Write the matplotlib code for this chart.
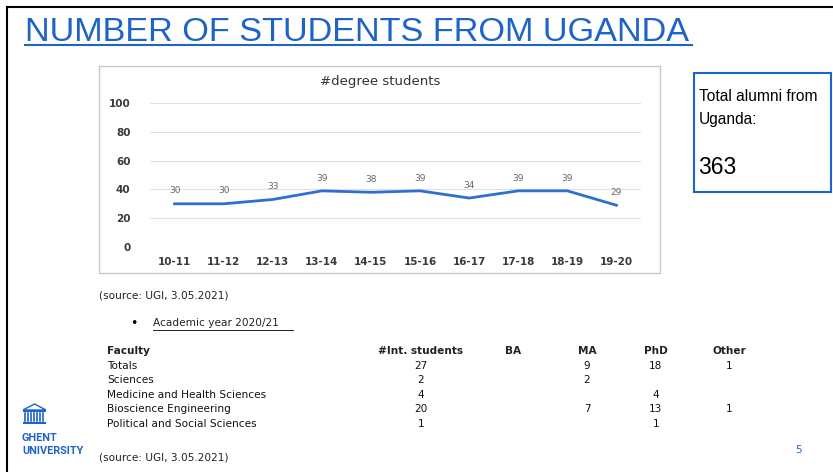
import matplotlib.pyplot as plt
from matplotlib.patches import Rectangle, Polygon

# --- Data ---
years = ["10-11", "11-12", "12-13", "13-14", "14-15", "15-16", "16-17", "17-18", "18-19", "19-20"]
degree_students = [30, 30, 33, 39, 38, 39, 34, 39, 39, 29]

table_cols = ["Faculty", "#Int. students", "BA", "MA", "PhD", "Other"]
faculties = ["Totals", "Sciences", "Medicine and Health Sciences",
             "Bioscience Engineering", "Political and Social Sciences"]
int_students = ["27", "2", "4", "20", "1"]
ba = ["", "", "", "", ""]
ma = ["9", "2", "", "7", ""]
phd = ["18", "", "4", "13", "1"]
other = ["1", "", "", "1", ""]

total_alumni = 363

W, H = 833, 472
BLUE = "#1e64c8"


def fx(x):
    return x / W


def fy(y):
    return 1 - y / H


fig = plt.figure(figsize=(W / 100, H / 100), dpi=100)
fig.patch.set_facecolor("white")

# slide frame (left and top)
fig.add_artist(plt.Line2D([fx(7), fx(7)], [fy(7), 0], color="black", lw=1.5))
fig.add_artist(plt.Line2D([fx(7), 1], [fy(7), fy(7)], color="black", lw=1.5))

# --- Title ---
fig.text(fx(25), fy(41), "NUMBER OF STUDENTS FROM UGANDA", family="Liberation Sans",
         fontsize=24.7, color=BLUE, va="baseline", ha="left")
fig.add_artist(plt.Line2D([fx(25), fx(692)], [fy(45), fy(45)], color=BLUE, lw=1.5))

# --- Chart box ---
fig.add_artist(Rectangle((fx(99), fy(273)), fx(660) - fx(99), fy(66) - fy(273),
                         transform=fig.transFigure, fill=False, ec="#c8c8c8", lw=1))

ax = fig.add_axes([fx(150), fy(247), fx(641) - fx(150), fy(103) - fy(247)])
x = list(range(len(years)))
ax.plot(x, degree_students, color="#2f6fd0", lw=2)
for xi, v in zip(x, degree_students):
    ax.annotate(str(v), (xi, v), xytext=(0, 6), textcoords="offset points",
                ha="center", va="bottom", fontsize=6.5, color="#666666", family="DejaVu Sans")
ax.set_xlim(-0.5, len(years) - 0.5)
ax.set_ylim(0, 100)
ax.set_yticks(range(0, 101, 20))
ax.set_xticks(x)
ax.set_xticklabels(years)
ax.grid(axis="y", color="#e0e0e0", lw=0.8)
ax.set_axisbelow(True)
for s in ax.spines.values():
    s.set_visible(False)
ax.tick_params(length=0, labelsize=7.5, labelcolor="#3a3a3a")
ax.tick_params(axis="y", pad=14)
ax.tick_params(axis="x", pad=7)
for lbl in ax.get_xticklabels() + ax.get_yticklabels():
    lbl.set_fontweight("semibold")
    lbl.set_family("DejaVu Sans")
ax.set_facecolor("none")
fig.text(fx(380), fy(82), "#degree students", ha="center", va="center",
         fontsize=9.5, color="#333333", family="DejaVu Sans")

# --- Alumni box ---
fig.add_artist(Rectangle((fx(694), fy(192)), fx(831) - fx(694), fy(73) - fy(192),
                         transform=fig.transFigure, fill=False, ec=BLUE, lw=1.5))
fig.text(fx(699), fy(101), "Total alumni from", family="Liberation Sans", fontsize=11.2,
         color="black", va="baseline")
fig.text(fx(699), fy(124), "Uganda:", family="Liberation Sans", fontsize=11.2,
         color="black", va="baseline")
fig.text(fx(698), fy(174), str(total_alumni), family="Liberation Sans", fontsize=16.5,
         color="black", va="baseline")

# --- Source / table ---
tf = "DejaVu Sans"
fs = 7.6
fig.text(fx(99), fy(296), "(source: UGI, 3.05.2021)", family=tf, fontsize=fs,
         color="#222222", va="center")
fig.text(fx(130), fy(323), "\u2022", family="DejaVu Sans", fontsize=9, va="center")
fig.text(fx(153), fy(323), "Academic year 2020/21", family=tf, fontsize=fs,
         color="#222222", va="center")
fig.add_artist(plt.Line2D([fx(153), fx(293)], [fy(330), fy(330)], color="#222222", lw=0.7))

col_x = [107, 421, 513, 587, 656, 729]
col_ha = ["left", "center", "center", "center", "center", "center"]
row_y = [366, 380, 395, 409, 424]
for cx, ha, name in zip(col_x, col_ha, table_cols):
    fig.text(fx(cx), fy(351), name, family=tf, fontsize=fs, fontweight="bold",
             ha=ha, va="center", color="#222222")
cols = [faculties, int_students, ba, ma, phd, other]
for cx, ha, vals in zip(col_x, col_ha, cols):
    for ry, v in zip(row_y, vals):
        fig.text(fx(cx), fy(ry), v, family=tf, fontsize=fs, ha=ha, va="center",
                 color="#111111")
fig.text(fx(99), fy(457), "(source: UGI, 3.05.2021)", family=tf, fontsize=fs,
         color="#222222", va="center")

# --- Logo ---
fig.add_artist(Polygon([(fx(23), fy(410)), (fx(34.5), fy(404)), (fx(46), fy(410))],
                       closed=True, transform=fig.transFigure, fill=False, ec=BLUE, lw=1))
fig.add_artist(Rectangle((fx(23), fy(412)), fx(46) - fx(23), fy(410) - fy(412),
                         transform=fig.transFigure, color=BLUE, lw=0))
for cx in range(25, 46, 3):
    fig.add_artist(plt.Line2D([fx(cx), fx(cx)], [fy(413), fy(421)], color=BLUE, lw=1.2))
fig.add_artist(Rectangle((fx(23), fy(424)), fx(46) - fx(23), fy(422) - fy(424),
                         transform=fig.transFigure, color=BLUE, lw=0))
fig.text(fx(22), fy(438), "GHENT", family="Roboto", fontsize=7.8, fontweight="bold",
         color=BLUE, va="center", ha="left")
fig.text(fx(22), fy(451), "UNIVERSITY", family="Roboto", fontsize=7.8, fontweight="bold",
         color=BLUE, va="center", ha="left")

fig.text(fx(798), fy(450), "5", family="DejaVu Sans", fontsize=7.5, color=BLUE,
         ha="center", va="center")

fig.savefig("out.png", dpi=100, facecolor="white")
